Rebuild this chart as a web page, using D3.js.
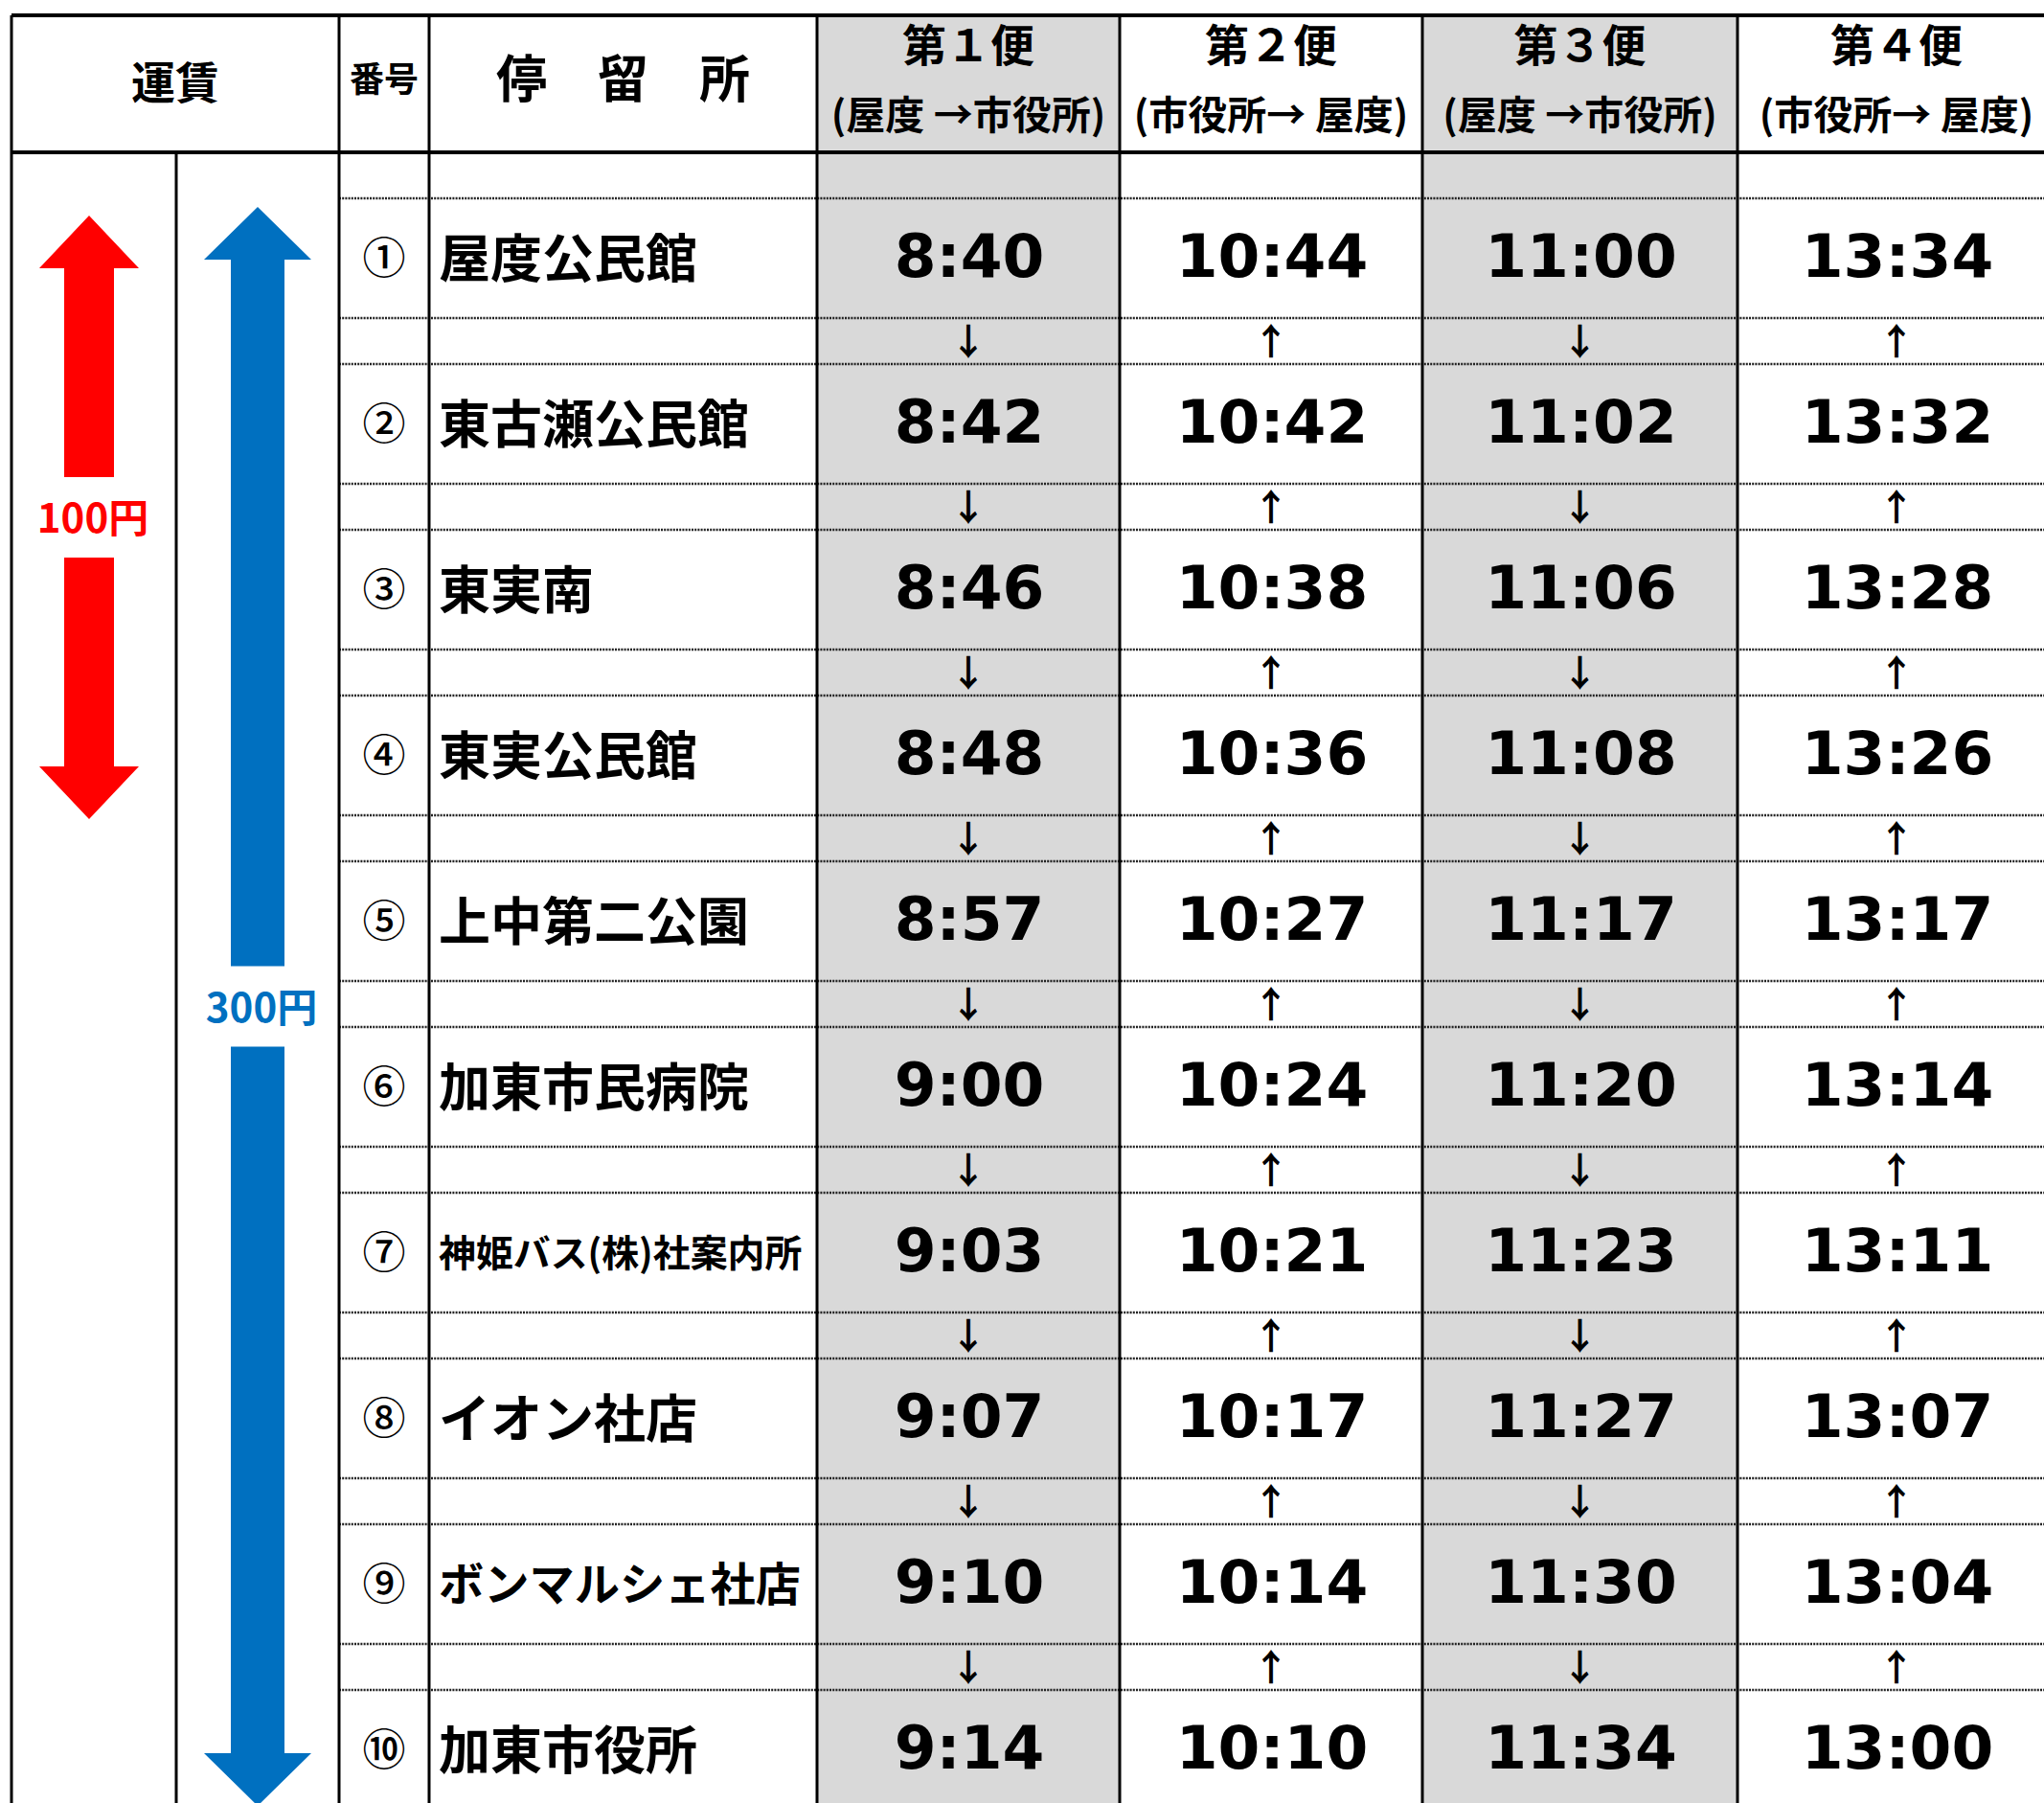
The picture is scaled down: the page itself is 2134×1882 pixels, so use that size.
<!DOCTYPE html>
<html>
<head>
<meta charset="utf-8" />
<title>時刻表</title>
<script src="https://d3js.org/d3.v7.min.js"></script>
<style>
body { margin: 0; background: #fff; }
svg { display: block; }
.jp { font-family: "Noto Sans CJK JP", sans-serif; }
.time { font-family: "DejaVu Sans", Verdana, sans-serif; font-weight: bold; }
</style>
</head>
<body>
<div id="chart"></div>
<script>
// 停留所と番号
const stopNames = ["屋度公民館", "東古瀬公民館", "東実南", "東実公民館", "上中第二公園",
    "加東市民病院", "神姫バス(株)社案内所", "イオン社店", "ボンマルシェ社店", "加東市役所"];
const stopNums = ["①", "②", "③", "④", "⑤", "⑥", "⑦", "⑧", "⑨", "⑩"];

// 便
const tripNames = ["第１便", "第２便", "第３便", "第４便"];
const tripDirs = ["(屋度 →市役所)", "(市役所→ 屋度)", "(屋度 →市役所)", "(市役所→ 屋度)"];
const tripArrows = ["↓", "↑", "↓", "↑"];

// 時刻
const trip1 = ["8:40", "8:42", "8:46", "8:48", "8:57", "9:00", "9:03", "9:07", "9:10", "9:14"];
const trip2 = ["10:44", "10:42", "10:38", "10:36", "10:27", "10:24", "10:21", "10:17", "10:14", "10:10"];
const trip3 = ["11:00", "11:02", "11:06", "11:08", "11:17", "11:20", "11:23", "11:27", "11:30", "11:34"];
const trip4 = ["13:34", "13:32", "13:28", "13:26", "13:17", "13:14", "13:11", "13:07", "13:04", "13:00"];
const times = [trip1, trip2, trip3, trip4];

// 運賃 (区間: 停留所番号 from..to)
const fareLabels = ["100円", "300円"];
const fareFrom = [0, 0];
const fareTo = [3, 9];
const fareColors = ["#ff0000", "#0070c0"];

const W = 2134, H = 1882;
const L = 12, TOP = 16, HEAD_B = 159, R = 2146;
const fareMid = 184, numX = 354, nameX = 448;
const tripEdges = [853, 1169, 1485, 1814, R];
const stopH = 125, gapH = 48;
const firstTop = 207;

const svg = d3.select('#chart').append('svg').attr('width', W).attr('height', H);

const y = d3.scaleLinear().domain([0, stopNames.length - 1])
    .range([firstTop, firstTop + (stopNames.length - 1) * (stopH + gapH)]);

// 灰色の列
tripNames.forEach((t, i) => {
    if (i % 2 === 0) {
        svg.append('rect').attr('x', tripEdges[i]).attr('y', TOP)
            .attr('width', tripEdges[i + 1] - tripEdges[i]).attr('height', H - TOP)
            .attr('fill', '#d9d9d9');
    }
});

// 点線
const dotted = svg.append('g').attr('stroke', '#222').attr('stroke-width', 2.5)
    .attr('stroke-dasharray', '2 1.2');
stopNames.forEach((s, i) => {
    [y(i), y(i) + stopH].forEach(yy => {
        dotted.append('line').attr('x1', numX).attr('x2', R).attr('y1', yy).attr('y2', yy);
    });
});

// 実線
const solid = svg.append('g').attr('stroke', '#000');
solid.append('line').attr('x1', L).attr('x2', R).attr('y1', TOP).attr('y2', TOP).attr('stroke-width', 4);
solid.append('line').attr('x1', L).attr('x2', R).attr('y1', HEAD_B).attr('y2', HEAD_B).attr('stroke-width', 4);
[L, numX, nameX].concat(tripEdges).forEach(x => {
    solid.append('line').attr('x1', x).attr('x2', x).attr('y1', TOP).attr('y2', H).attr('stroke-width', 3);
});
solid.append('line').attr('x1', fareMid).attr('x2', fareMid).attr('y1', HEAD_B).attr('y2', H).attr('stroke-width', 3);

// 見出し
const head = svg.append('g').attr('class', 'jp').attr('font-weight', 'bold')
    .attr('text-anchor', 'middle').attr('fill', '#000');
head.append('text').attr('x', (L + numX) / 2).attr('y', 86 + 17).attr('font-size', 46).text('運賃');
head.append('text').attr('x', (numX + nameX) / 2).attr('y', 82 + 14).attr('font-size', 36).text('番号');
head.append('text').attr('x', (nameX + tripEdges[0]) / 2).attr('y', 82 + 20).attr('font-size', 53).text('停　留　所');
tripNames.forEach((t, i) => {
    const cx = (tripEdges[i] + tripEdges[i + 1]) / 2;
    head.append('text').attr('x', cx).attr('y', 47 + 17).attr('font-size', 46).text(t);
    head.append('text').attr('x', cx).attr('y', 120 + 15).attr('font-size', 41).text(tripDirs[i]);
});

// 停留所
const rows = svg.append('g');
const emWidth = s => Array.from(s).reduce((a, c) => a + (c.charCodeAt(0) < 128 ? 0.36 : 1), 0);
stopNames.forEach((name, i) => {
    const cy = y(i) + stopH / 2;
    rows.append('text').attr('class', 'jp').attr('x', (numX + nameX) / 2).attr('y', cy + 16)
        .attr('text-anchor', 'middle').attr('font-size', 45).attr('font-weight', 500).text(stopNums[i]);
    const fs = Math.min(54, 378 / emWidth(name));
    rows.append('text').attr('class', 'jp').attr('x', nameX + 10).attr('y', cy + fs * 0.38)
        .attr('font-size', fs).attr('font-weight', 'bold').text(name);
});

// 時刻と矢印
times.forEach((col, j) => {
    const cx = (tripEdges[j] + tripEdges[j + 1]) / 2;
    col.forEach((t, i) => {
        const cy = y(i) + stopH / 2;
        rows.append('text').attr('class', 'time').attr('x', cx + 1).attr('y', cy + 19)
            .attr('text-anchor', 'middle').attr('font-size', 63).text(t);
        if (i < col.length - 1) {
            rows.append('text').attr('class', 'jp').attr('x', cx).attr('y', y(i) + stopH + gapH / 2 + 14)
                .attr('text-anchor', 'middle').attr('font-size', 38).attr('font-weight', 'bold')
                .text(tripArrows[j]);
        }
    });
});

// 運賃の矢印
const fareX = [(L + fareMid) / 2 - 5, (fareMid + numX) / 2];
const fareHead = [52, 56], fareShaft = [26, 28];
fareLabels.forEach((lab, k) => {
    const cx = fareX[k];
    const top = y(fareFrom[k]) + (k === 0 ? 18 : 9);
    const bot = y(fareTo[k]) + stopH + (k === 0 ? 4 : -4);
    const mid = (top + bot) / 2;
    const hw = fareHead[k], sw = fareShaft[k], hl = 55, gap = 42;
    const up = d3.path();
    up.moveTo(cx, top); up.lineTo(cx + hw, top + hl); up.lineTo(cx + sw, top + hl);
    up.lineTo(cx + sw, mid - gap); up.lineTo(cx - sw, mid - gap); up.lineTo(cx - sw, top + hl);
    up.lineTo(cx - hw, top + hl); up.closePath();
    const dn = d3.path();
    dn.moveTo(cx, bot); dn.lineTo(cx + hw, bot - hl); dn.lineTo(cx + sw, bot - hl);
    dn.lineTo(cx + sw, mid + gap); dn.lineTo(cx - sw, mid + gap); dn.lineTo(cx - sw, bot - hl);
    dn.lineTo(cx - hw, bot - hl); dn.closePath();
    svg.append('path').attr('d', up.toString()).attr('fill', fareColors[k]);
    svg.append('path').attr('d', dn.toString()).attr('fill', fareColors[k]);
    svg.append('text').attr('class', 'jp').attr('x', cx + 4).attr('y', mid + 16)
        .attr('text-anchor', 'middle').attr('font-size', 42).attr('font-weight', 'bold')
        .attr('fill', fareColors[k]).text(lab);
});
</script>
</body>
</html>
